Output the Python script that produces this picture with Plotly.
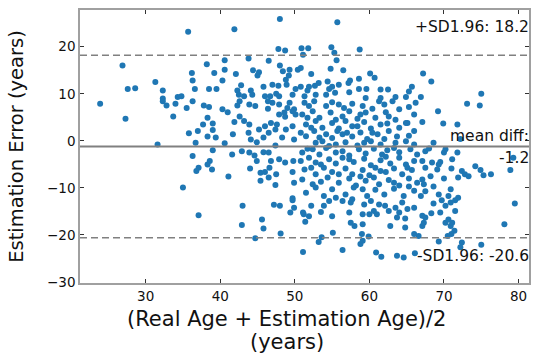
import plotly.graph_objects as go

# (mean age, estimation error) pairs
pairs = [
    (26.9,16.0),(27.6,11.0),(28.6,11.2),(31.3,12.5),(32.3,10.7),(32.3,9.0),(34.3,9.3),
    (23.9,7.9),(27.3,4.7),(31.6,-0.8),(32.3,8.4),(32.8,7.5),(33.7,5.2),(34.0,7.9),
    (35.7,23.2),(41.9,23.7),(48.0,25.9),(47.8,19.5),(48.7,19.2),(43.8,17.5),(46.5,17.0),(38.2,16.3),
    (40.6,17.1),(40.6,15.1),(39.2,14.4),(36.2,14.4),(36.3,12.8),(42.1,14.2),(44.4,15.0),(45.2,14.6),
    (45.0,13.9),(40.3,12.8),(36.6,11.0),(38.5,11.0),(39.5,11.0),(42.8,11.8),(42.3,10.7),(44.1,10.7),
    (48.0,16.0),(48.4,14.8),(49.3,15.1),(48.8,13.0),(49.2,13.9),(50.4,15.1),(47.8,11.7),(47.0,11.9),
    (45.8,11.5),(48.9,11.9),(50.1,11.0),(42.5,9.8),(43.2,9.5),(46.0,9.5),(47.5,10.0),(46.7,9.5),
    (47.9,9.5),(49.7,9.8),(34.8,9.5),(44.3,9.8),
    (55.7,25.2),(50.9,19.7),(51.8,19.7),(54.9,19.9),(58.7,19.4),(55.3,18.7),(51.1,18.3),(55.6,17.1),
    (50.8,15.5),(54.8,15.3),(56.5,15.0),(52.2,14.2),(60.1,14.3),(60.7,13.4),(58.6,13.2),(57.4,12.8),
    (57.2,12.3),(54.4,12.6),(53.2,12.3),(52.7,11.7),(51.9,11.5),(50.8,11.5),(55.0,11.5),(55.9,11.9),
    (58.6,11.0),(59.6,11.0),(61.5,10.9),(62.5,10.9),(65.7,11.5),(65.3,10.5),(54.6,11.0),(51.7,10.7),
    (57.3,10.3),(55.4,10.2),(54.2,9.8),(52.8,9.8),(51.3,9.5),(63.5,9.3),(64.9,9.3),(59.5,9.1),(61.5,9.1),
    (67.2,14.3),(68.3,12.6),(75.0,10.0),(66.9,9.3),
    (73.1,7.9),(74.8,7.5),(69.2,6.3),(67.1,4.0),(69.9,3.7),(71.8,3.5),(68.6,-0.4),(72.2,0.4),
    (67.5,-2.2),(70.0,-2.5),(70.2,-1.8),(71.8,-2.5),(79.3,-3.6),(78.9,-6.2),(67.1,-4.3),(68.4,-4.6),
    (69.5,-4.5),(71.1,-3.9),(71.0,-5.9),(69.3,-5.0),(69.1,-6.1),(67.5,-5.7),(72.4,-6.4),(72.8,-7.1),
    (74.2,-5.4),(74.9,-6.2),(75.3,-7.3),(76.3,-7.1),(73.3,-7.5),(71.9,-7.8),(70.0,-8.0),(68.2,-7.5),
    (67.1,-8.2),(67.3,-9.2),(68.6,-9.7),(70.9,-10.3),(67.5,-10.7),(69.3,-11.4),(71.9,-12.1),(66.9,-11.7),
    (70.6,-11.7),(68.0,-1.6),
    (79.5,-13.3),(78.1,-17.7),(75.0,-22.1),(72.4,-21.6),(72.2,-22.6),(69.3,-21.4),(71.4,-19.1),(71.0,-19.8),
    (70.5,-20.2),(67.1,-18.1),(67.3,-17.4),(67.5,-16.3),(67.1,-15.9),(68.3,-15.4),(68.6,-13.3),(69.7,-12.6),
    (69.5,-15.2),(70.2,-13.8),(70.9,-13.1),(71.5,-14.9),(71.5,-12.6),(70.2,-17.4),(70.6,-16.7),(70.9,-18.1),
    (71.1,-17.4),(66.6,-20.2),
    (51.1,-23.6),(56.4,-23.2),(60.9,-23.7),(61.6,-24.6),(63.7,-24.4),(64.6,-24.8),(66.1,-23.9),(53.2,-21.5),
    (53.6,-20.5),(55.1,-19.5),(58.8,-21.9),(59.1,-21.2),(59.0,-19.8),(59.9,-20.3),(66.0,-19.8),(57.5,-17.4),
    (58.0,-18.1),(59.1,-17.7),(60.0,-15.6),(61.0,-15.6),(62.8,-18.1),(64.8,-18.4),(63.7,-16.3),(64.8,-16.5),
    (51.2,-15.6),(51.4,-17.2),(51.9,-16.0),(51.1,-15.2),(52.2,-13.8),(53.5,-15.1),(53.9,-13.8),(55.0,-16.0),
    (54.6,-12.8),(57.3,-15.2),(57.5,-13.1),(59.3,-13.5),(59.1,-15.6),(60.6,-14.9),(61.3,-13.5),(62.1,-13.8),
    (62.6,-14.9),(63.5,-14.2),(64.4,-13.1),(65.1,-14.5),(66.0,-14.2),(64.0,-15.2),(60.2,-12.8),(56.4,-12.8),
    (57.7,-12.4),
    (37.1,-15.8),(43.0,-13.8),(42.9,-17.9),(45.6,-16.7),(45.8,-18.6),(47.2,-13.6),(48.0,-13.8),(48.1,-19.7),
    (44.7,-20.7),(49.4,-15.2),(49.9,-14.2),(49.7,-12.6),
    (36.3,8.4),(35.5,7.0),(37.8,7.5),(38.5,7.2),(40.3,6.7),(41.0,6.1),(42.3,7.5),(42.6,8.4),
    (43.9,7.7),(44.7,7.4),(46.4,6.8),(47.0,8.1),(47.9,7.7),(49.3,8.1),(49.9,6.7),(50.1,5.6),
    (47.9,5.6),(48.7,5.1),(38.3,4.9),(39.0,3.7),(37.7,3.5),(37.0,2.1),(35.8,1.6),(39.0,2.3),
    (39.4,0.7),(38.3,0.9),(36.7,-0.4),(40.6,-0.5),(41.7,1.4),(41.9,4.0),(42.6,5.2),(43.2,4.2),
    (43.9,3.5),(43.8,1.7),(44.1,0.3),(45.2,2.4),(45.8,0.7),(46.0,3.1),(46.5,1.7),(46.8,3.8),
    (47.6,3.5),(47.4,2.4),(48.8,2.4),(49.7,3.1),(48.3,0.7),(49.9,0.3),(44.9,-0.3),(47.4,-1.0),
    (39.0,-2.0),(36.3,-3.2),(41.6,-2.9),(42.9,-2.2),(43.9,-2.5),(44.6,-3.1),(44.9,-4.3),(45.8,-2.4),
    (46.5,-2.5),(46.8,-4.3),(47.9,-3.9),(48.7,-4.6),(49.8,-4.3),(38.6,-4.3),(38.3,-5.0),(37.1,-5.7),
    (36.8,-6.4),(38.9,-6.1),(44.0,-5.9),(46.6,-5.7),(45.4,-6.8),(46.0,-6.6),(47.5,-7.1),(46.5,-7.8),
    (45.4,-8.5),(47.4,-9.4),(49.7,-6.6),(49.9,-8.9),(41.1,-7.6),(35.0,-9.9),(49.7,-12.2),(46.4,8.4),
    (49.7,6.3),(48.6,6.0),(49.0,7.0),
    (51.3,8.1),(52.6,8.4),(54.2,7.4),(55.0,8.2),(56.6,7.0),(57.7,7.9),(59.1,7.4),(60.4,6.8),
    (62.0,7.7),(63.1,8.4),(65.3,7.2),(66.2,8.1),
    (51.0,5.6),(52.4,6.3),(53.3,4.9),(54.8,6.0),(56.4,5.2),(57.3,6.3),(58.4,4.7),(59.5,6.0),
    (60.8,4.9),(62.2,6.1),(62.6,5.2),(64.9,3.8),(66.0,5.6),
    (51.5,3.5),(52.8,4.2),(53.7,2.8),(55.0,3.8),(55.9,2.6),(56.8,4.2),(58.4,3.1),(59.3,4.0),
    (60.2,2.6),(61.5,3.5),(64.0,2.8),(65.1,3.8),
    (50.8,1.7),(51.5,1.0),(52.6,2.1),(54.2,1.4),(55.0,0.6),(55.7,2.1),(56.4,1.4),(57.7,0.9),
    (58.8,1.8),(59.7,0.4),(61.1,1.4),(62.0,0.4),(62.6,2.1),(63.7,0.9),(65.3,1.1),
    (52.8,-0.4),(53.7,-0.1),(55.5,-0.8),(56.8,-0.3),(58.4,-1.0),(60.2,-0.1),(61.5,-0.8),(63.5,-0.4),
    (64.9,-0.1),
    (51.0,-2.5),(52.4,-1.8),(53.3,-2.9),(54.2,-1.5),(56.4,-2.2),(57.3,-3.1),(58.6,-1.8),(59.5,-2.7),
    (60.6,-1.7),(61.7,-2.9),(62.4,-2.0),(64.0,-2.4),(65.5,-1.8),(66.4,-2.9),
    (50.8,-4.3),(51.9,-3.6),(53.5,-5.0),(54.6,-3.9),(55.5,-4.8),(56.4,-3.6),(57.9,-4.5),(59.3,-3.8),
    (60.2,-5.2),(61.5,-4.1),(62.8,-4.8),(64.0,-3.6),(64.9,-5.0),(66.0,-4.3),
    (51.3,-6.1),(52.8,-7.1),(53.9,-5.7),(55.0,-6.6),(56.8,-5.9),(57.7,-7.1),(59.1,-6.2),(60.0,-7.3),
    (60.8,-5.7),(62.2,-6.6),(63.3,-5.9),(64.4,-7.1),(65.7,-6.2),
    (51.0,-8.2),(52.4,-9.2),(54.4,-7.8),(55.9,-8.9),(57.3,-8.0),(58.2,-9.5),(59.5,-8.5),(60.6,-7.8),
    (61.3,-9.2),(62.6,-8.3),(64.0,-9.5),(65.3,-8.0),(66.4,-8.9),
    (51.5,-11.0),(52.8,-9.9),(53.9,-11.7),(55.0,-10.3),(56.8,-11.4),(57.9,-9.9),(59.7,-11.7),(60.8,-10.4),
    (62.0,-11.4),(63.3,-10.2),(64.6,-11.7),(66.0,-10.6),
    (51.9,7.4),(55.9,7.7),(61.3,8.4),(64.0,6.7),(51.7,4.9),(55.5,4.5),(58.8,5.6),(63.5,4.5),
    (52.2,2.8),(57.7,3.1),(62.4,3.7),(66.0,2.1),(53.3,0.7),(57.0,1.7),(60.4,1.7),(54.6,-1.1),
    (59.3,-0.4),(66.0,-0.8),(51.7,-1.7),(55.5,-2.5),(63.3,-1.5),(52.8,-4.6),(57.3,-3.9),(62.2,-3.4),
    (52.2,-5.7),(55.9,-7.1),(61.5,-6.4),(65.1,-5.7),(53.5,-8.7),(58.8,-7.6),(63.3,-8.9),(55.5,-12.1),
    (59.1,-10.3),(65.3,-9.7),
]
mean_age = [p[0] for p in pairs]
error = [p[1] for p in pairs]

mean_diff = -1.2
upper_loa = 18.2
lower_loa = -20.6
x_ticks = [30, 40, 50, 60, 70, 80]
y_ticks = [-30, -20, -10, 0, 10, 20]
x_range = [21.2, 81.4]
y_range = [-30.2, 27.8]
x_title_lines = ["(Real Age + Estimation Age)/2", "(years)"]
y_title = "Estimation Error (years)"

FONT = "DejaVu Sans"

fig = go.Figure()
fig.add_trace(go.Scatter(
    x=mean_age, y=error, mode="markers",
    marker=dict(color="#1f77b4", size=6, line=dict(width=0)),
    showlegend=False, hoverinfo="skip"))

fig.add_hline(y=mean_diff, line=dict(color="#808080", width=2))
fig.add_hline(y=upper_loa, line=dict(color="#808080", width=1.5, dash="7px,4px"))
fig.add_hline(y=lower_loa, line=dict(color="#808080", width=1.5, dash="7px,4px"))

ann_font = dict(family=FONT, size=15.5, color="#111")
anns = [
    ("+SD1.96: %.1f" % upper_loa, 24.2),
    ("mean diff:", 1.1),
    ("%.1f" % mean_diff, -3.6),
    ("-SD1.96: %.1f" % lower_loa, -24.5),
]
for txt, yy in anns:
    fig.add_annotation(x=1, xref="paper", y=yy, yref="y", text=txt,
                       showarrow=False, xanchor="right", yanchor="middle",
                       xshift=2, font=ann_font)

# x-axis title as two centred lines (matches reference placement)
for txt, yy in zip(x_title_lines, [-0.132, -0.216]):
    fig.add_annotation(x=0.461, xref="paper", y=yy, yref="paper", text=txt,
                       showarrow=False, xanchor="center", yanchor="middle",
                       font=dict(family=FONT, size=21, color="#111"))

axis_common = dict(
    showgrid=False, zeroline=False, showline=True, linecolor="#a0a0a0", linewidth=1.5,
    mirror="ticks", ticks="inside", ticklen=4, tickwidth=1.3, tickcolor="#333",
    tickfont=dict(family=FONT, size=13.5, color="#111"),
)
fig.update_xaxes(range=x_range, tickvals=x_ticks, **axis_common)
fig.update_yaxes(range=y_range, tickvals=y_ticks,
                 title=dict(text=y_title,
                            font=dict(family=FONT, size=19.5, color="#111"), standoff=18),
                 **axis_common)

fig.update_layout(
    width=533, height=356,
    margin=dict(l=80, r=2, t=10, b=73),
    paper_bgcolor="white", plot_bgcolor="white",
    font=dict(family=FONT),
)
fig.write_html(
    "out.html",
    config={"displayModeBar": False},
    post_script="document.body.style.margin='0';document.body.style.overflow='hidden';",
)
